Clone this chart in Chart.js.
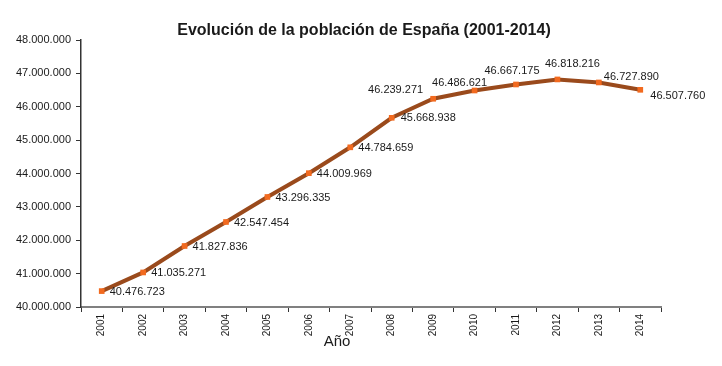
<!DOCTYPE html>
<html>
<head>
<meta charset="utf-8">
<script src="https://cdn.jsdelivr.net/npm/chart.js@4"></script>
<style>
  html, body { margin: 0; padding: 0; background: #fff; }
  #wrap { width: 722px; height: 366px; }
</style>
</head>
<body>
<div id="wrap"><canvas id="c" width="722" height="366"></canvas></div>
<script>
// Población de España, 1 de enero de cada año
const years = ['2001', '2002', '2003', '2004', '2005', '2006', '2007', '2008', '2009', '2010', '2011', '2012', '2013', '2014'];
const population = [40476723, 41035271, 41827836, 42547454, 43296335, 44009969, 44784659, 45668938, 46239271, 46486621, 46667175, 46818216, 46727890, 46507760];
const yTicks = [40000000, 41000000, 42000000, 43000000, 44000000, 45000000, 46000000, 47000000, 48000000];

function fmt(n) {
  return String(n).replace(/\B(?=(\d{3})+(?!\d))/g, '.');
}

const FONT = 'Arial, "Liberation Sans", sans-serif';

// desplazamiento de cada etiqueta respecto a su punto: [alineación, dx, dy]
const labelPlacement = [
  ['left', 8, 1], ['left', 8, 1], ['left', 8, 1], ['left', 8, 1], ['left', 8, 1],
  ['left', 8, 1], ['left', 8, 1], ['left', 9, 0], ['right', -10, -9], ['center', -15, -8],
  ['center', -4, -14], ['center', 15, -15], ['left', 5, -5], ['left', 10, 6]
];

const pointLabels = {
  id: 'pointLabels',
  afterDatasetsDraw(chart) {
    const ctx = chart.ctx;
    const meta = chart.getDatasetMeta(0);
    ctx.save();
    ctx.font = '11px ' + FONT;
    ctx.fillStyle = '#1a1a1a';
    ctx.textBaseline = 'middle';
    meta.data.forEach(function (pt, i) {
      const p = labelPlacement[i];
      ctx.textAlign = p[0];
      ctx.fillText(fmt(population[i]), pt.x + p[1], pt.y + p[2]);
    });
    // título del gráfico y del eje x
    ctx.textAlign = 'center';
    ctx.font = 'bold 16px ' + FONT;
    ctx.fillText('Evolución de la población de España (2001-2014)', 364, 31);
    ctx.font = '15px ' + FONT;
    ctx.fillText('Año', 337, 342);
    ctx.restore();
  }
};

new Chart(document.getElementById('c'), {
  type: 'line',
  data: {
    labels: years,
    datasets: [{
      data: population,
      borderColor: '#9a4a1c',
      borderWidth: 4,
      tension: 0,
      pointStyle: 'rect',
      pointRadius: 4,
      pointBackgroundColor: '#f26a1f',
      pointBorderColor: '#f26a1f',
      pointBorderWidth: 0
    }]
  },
  options: {
    responsive: false,
    animation: false,
    layout: { padding: { left: 0, right: 61, top: 40, bottom: 0 } },
    plugins: {
      legend: { display: false },
      tooltip: { enabled: false },
      title: { display: false }
    },
    scales: {
      x: {
        offset: true,
        afterFit(s) { s.height = 59; },
        border: { color: '#808080', width: 2 },
        grid: { drawOnChartArea: false, offset: true, tickLength: 5, color: '#333', tickColor: '#333' },
        ticks: {
          minRotation: 90, maxRotation: 90, color: '#1a1a1a', padding: 2,
          font: { family: FONT, size: 10 }
        }
      },
      y: {
        min: 40000000,
        max: 48000000,
        afterFit(s) { s.width = 81; },
        afterBuildTicks(s) { s.ticks = yTicks.map(function (v) { return { value: v }; }); },
        border: { color: '#333', width: 1.5 },
        grid: { drawOnChartArea: false, tickLength: 5, color: '#333', tickColor: '#333' },
        ticks: {
          color: '#1a1a1a', padding: 5,
          font: { family: FONT, size: 11 },
          callback: function (v) { return fmt(v); }
        }
      }
    }
  },
  plugins: [pointLabels]
});
</script>
</body>
</html>
